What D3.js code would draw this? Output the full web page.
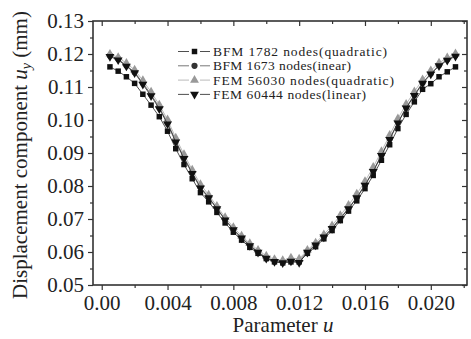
<!DOCTYPE html>
<html>
<head>
<meta charset="utf-8">
<script src="https://cdn.jsdelivr.net/npm/d3@7"></script>
<style>
  body { margin: 0; background: #fff; }
  text { font-family: "Liberation Serif", "Times New Roman", serif; fill: #222; }
</style>
</head>
<body>
<svg id="chart" width="471" height="339"></svg>
<script>
// parameter u values (0.0005 .. 0.0215)
var uValues = d3.range(1, 44).map(function(k){ return +(k * 0.0005).toFixed(4); });

// BFM 1782 nodes (quadratic) - squares
var bfmQuad = [0.1161,0.1148,0.1131,0.1111,0.1078,0.1045,0.1010,0.0966,0.0913,0.0865,
               0.0822,0.0780,0.0752,0.0720,0.0688,0.0660,0.0636,0.0614,0.0596,0.0580,
               0.0570,0.0567,0.0570,0.0570,0.0596,0.0616,0.0640,0.0665,0.0695,0.0724,
               0.0755,0.0792,0.0832,0.0878,0.0925,0.0974,0.1017,0.1055,0.1093,0.1110,
               0.1131,0.1146,0.1161];
// BFM 1673 nodes (linear) - circles
var bfmLin = [0.1195,0.1185,0.1165,0.1145,0.1112,0.1077,0.1038,0.0992,0.0937,0.0887,
              0.0841,0.0797,0.0766,0.0733,0.0699,0.0669,0.0644,0.0621,0.0601,0.0583,
              0.0574,0.0569,0.0575,0.0574,0.0601,0.0623,0.0647,0.0673,0.0703,0.0733,
              0.0766,0.0804,0.0846,0.0894,0.0943,0.0993,0.1038,0.1076,0.1113,0.1141,
              0.1166,0.1183,0.1196];
// FEM 56030 nodes (quadratic) - triangles
var femQuad = [0.1200,0.1190,0.1172,0.1152,0.1120,0.1085,0.1046,0.1001,0.0946,0.0896,
               0.0849,0.0805,0.0773,0.0739,0.0705,0.0675,0.0649,0.0626,0.0606,0.0588,
               0.0578,0.0575,0.0582,0.0579,0.0606,0.0628,0.0653,0.0680,0.0711,0.0742,
               0.0776,0.0814,0.0857,0.0905,0.0954,0.1004,0.1048,0.1086,0.1122,0.1150,
               0.1173,0.1189,0.1201];
// FEM 60444 nodes (linear) - inverted triangles
var femLin = [0.1192,0.1182,0.1163,0.1143,0.1108,0.1073,0.1034,0.0988,0.0933,0.0883,
              0.0838,0.0794,0.0764,0.0731,0.0697,0.0667,0.0642,0.0619,0.0599,0.0581,
              0.0571,0.0567,0.0572,0.0568,0.0599,0.0621,0.0645,0.0671,0.0701,0.0731,
              0.0764,0.0802,0.0844,0.0892,0.0941,0.0991,0.1036,0.1074,0.1111,0.1139,
              0.1164,0.1181,0.1193];

var seriesNames = ["BFM 1782 nodes(quadratic)", "BFM 1673 nodes(inear)",
                   "FEM 56030 nodes(quadratic)", "FEM 60444 nodes(linear)"];

var xMajorTicks = [0, 0.004, 0.008, 0.012, 0.016, 0.020];
var xTickLabels = ["0.00", "0.004", "0.008", "0.012", "0.016", "0.020"];
var yMajorTicks = [0.05, 0.06, 0.07, 0.08, 0.09, 0.10, 0.11, 0.12, 0.13];

var svg = d3.select("#chart");
var plotL = 93, plotR = 467, plotT = 21, plotB = 285;

var x = d3.scaleLinear().domain([-0.00053, 0.0222]).range([plotL, plotR]);
var y = d3.scaleLinear().domain([0.05, 0.13]).range([plotB, plotT]);

var xMinor = [0.002, 0.006, 0.010, 0.014, 0.018, 0.022];
var yMinor = d3.range(0.055, 0.13, 0.01);

// series lines + markers
var series = [
  {vals: bfmQuad, line: "#222", fill: "#111", sym: d3.symbolSquare, size: 30, rot: 0},
  {vals: bfmLin,  line: "#555", fill: "#333", sym: d3.symbolCircle, size: 30, rot: 0},
  {vals: femQuad, line: "#aaa", fill: "#999", sym: d3.symbolTriangle, size: 34, rot: 0},
  {vals: femLin,  line: "#222", fill: "#111", sym: d3.symbolTriangle, size: 34, rot: 180}
];

var line = d3.line()
  .x(function(d){ return x(d[0]); })
  .y(function(d){ return y(d[1]); });

series.forEach(function(s){
  var pts = uValues.map(function(u, i){ return [u, s.vals[i]]; });
  svg.append("path")
    .attr("d", line(pts))
    .attr("fill", "none")
    .attr("stroke", s.line)
    .attr("stroke-width", 0.8);
  svg.selectAll(null)
    .data(pts)
    .enter()
    .append("path")
    .attr("d", d3.symbol().type(s.sym).size(s.size))
    .attr("transform", function(d){ return "translate(" + x(d[0]) + "," + y(d[1]) + ") rotate(" + s.rot + ")"; })
    .attr("fill", s.fill);
});

// axes
var g = svg.append("g");
g.append("g").attr("transform", "translate(0," + plotB + ")")
  .call(d3.axisBottom(x).tickValues(xMajorTicks).tickSize(5).tickPadding(5)
        .tickFormat(function(d, i){ return xTickLabels[i]; }));
g.append("g").attr("transform", "translate(0," + plotB + ")")
  .call(d3.axisBottom(x).tickValues(xMinor).tickSize(3).tickFormat(""));
g.append("g").attr("transform", "translate(0," + plotT + ")")
  .call(d3.axisBottom(x).tickValues(xMajorTicks).tickSize(5).tickFormat(""));
g.append("g").attr("transform", "translate(0," + plotT + ")")
  .call(d3.axisBottom(x).tickValues(xMinor).tickSize(3).tickFormat(""));
g.append("g").attr("transform", "translate(" + plotL + ",0)")
  .call(d3.axisLeft(y).tickValues(yMajorTicks).tickSize(5).tickPadding(4).tickFormat(d3.format(".2f")));
g.append("g").attr("transform", "translate(" + plotL + ",0)")
  .call(d3.axisLeft(y).tickValues(yMinor).tickSize(3).tickFormat(""));
g.append("g").attr("transform", "translate(" + plotR + ",0)")
  .call(d3.axisLeft(y).tickValues(yMajorTicks).tickSize(5).tickFormat(""));
g.append("g").attr("transform", "translate(" + plotR + ",0)")
  .call(d3.axisLeft(y).tickValues(yMinor).tickSize(3).tickFormat(""));

g.selectAll(".domain").remove();
g.selectAll("line").attr("stroke", "#333").attr("stroke-width", 1.2);
g.selectAll("text").style("font-size", "21px").attr("fill", "#222");

svg.append("rect")
  .attr("x", plotL).attr("y", plotT)
  .attr("width", plotR - plotL).attr("height", plotB - plotT)
  .attr("fill", "none").attr("stroke", "#333").attr("stroke-width", 1.6);

// axis titles
var xt = svg.append("text")
  .attr("x", 283).attr("y", 332)
  .attr("text-anchor", "middle")
  .style("font-size", "21px");
xt.append("tspan").text("Parameter ");
xt.append("tspan").attr("font-style", "italic").text("u");

var yt = svg.append("text")
  .attr("transform", "translate(27,155) rotate(-90)")
  .attr("text-anchor", "middle")
  .style("font-size", "21px");
yt.append("tspan").text("Displacement component ");
yt.append("tspan").attr("font-style", "italic").text("u");
yt.append("tspan").attr("font-style", "italic").attr("dy", 4).style("font-size", "14px").text("y");
yt.append("tspan").attr("dy", -4).text(" (mm)");

// legend
var legend = svg.append("g");
series.forEach(function(s, i){
  var ly = 51.5 + i * 14.3;
  legend.append("line")
    .attr("x1", 178).attr("x2", 210).attr("y1", ly).attr("y2", ly)
    .attr("stroke", s.line).attr("stroke-width", 0.8);
  legend.append("rect")
    .attr("x", 189).attr("y", ly - 4).attr("width", 11).attr("height", 8)
    .attr("fill", "#fff");
  legend.append("path")
    .attr("d", d3.symbol().type(s.sym).size(s.size))
    .attr("transform", "translate(194.5," + ly + ") rotate(" + s.rot + ")")
    .attr("fill", s.fill);
  legend.append("text")
    .attr("x", 213).attr("y", ly + 4.5)
    .style("font-size", "13.5px")
    .attr("textLength", i === 0 ? 174 : i === 1 ? 138 : i === 2 ? 181 : 153)
    .text(seriesNames[i]);
});
</script>
</body>
</html>
